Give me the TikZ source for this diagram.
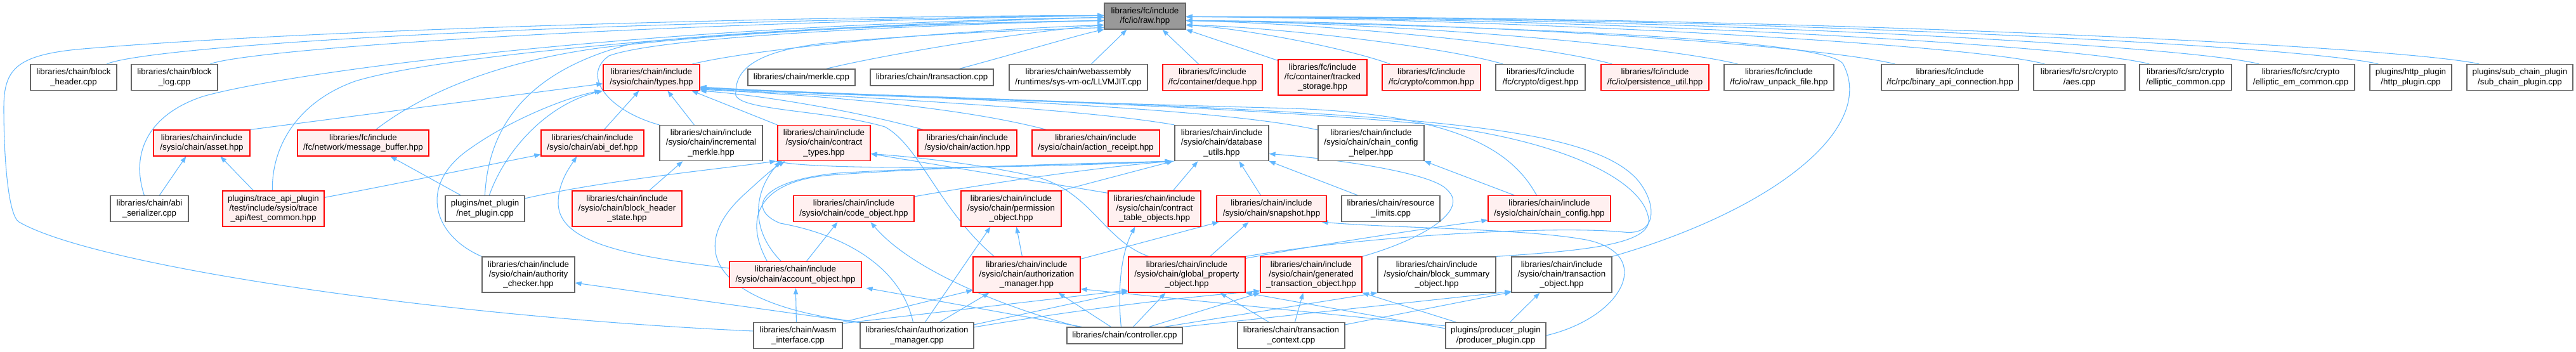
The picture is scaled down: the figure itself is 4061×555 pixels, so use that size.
\documentclass[tikz,border=0pt]{standalone}
\usepackage{fontspec}
\newfontfamily\dxf{Liberation Sans}
\usetikzlibrary{arrows.meta,calc,backgrounds}
\definecolor{edgec}{HTML}{63B8FF}
\definecolor{redfill}{HTML}{FFF0F0}
\definecolor{grayb}{HTML}{666666}
\definecolor{rawfill}{HTML}{999999}
\begin{document}
\begin{tikzpicture}[x=0.75pt,y=-0.75pt,
  wb/.style={draw=grayb, fill=white, line width=0.9pt, align=center, inner sep=0pt, font=\dxf\fontsize{10}{11.4}\selectfont},
  rb/.style={wb, draw=red, fill=redfill},
  gb/.style={wb, fill=rawfill},
  lone/.style={minimum height=19.5pt},
  ltwo/.style={minimum height=30.75pt},
  lthree/.style={minimum height=42pt},
  ed/.style={draw=edgec, line width=0.8pt, -{Triangle[length=7.5pt,width=5.5pt]}}]
\useasboundingbox (0,0) rectangle (4061,555);
% row 0
\node[gb,ltwo,minimum width=96pt] (raw) at (1805,25.5) {libraries/fc/include\\/fc/io/raw.hpp};
% row 1
\node[wb,ltwo,minimum width=102pt] (bh) at (116,122) {libraries/chain/block\\\_header.cpp};
\node[wb,ltwo,minimum width=102pt] (bl) at (275,122) {libraries/chain/block\\\_log.cpp};
\node[rb,ltwo,minimum width=114pt] (types) at (1027,122) {libraries/chain/include\\/sysio/chain/types.hpp};
\node[wb,lone,minimum width=126.75pt] (merkle) at (1263.5,122) {libraries/chain/merkle.cpp};
\node[wb,lone,minimum width=145.5pt] (trx) at (1469,122) {libraries/chain/transaction.cpp};
\node[wb,ltwo,minimum width=163.5pt] (llvm) at (1700,122) {libraries/chain/webassembly\\/runtimes/sys-vm-oc/LLVMJIT.cpp};
\node[rb,ltwo,minimum width=117.75pt] (deque) at (1911.5,122) {libraries/fc/include\\/fc/container/deque.hpp};
\node[rb,lthree,minimum width=105pt] (tracked) at (2085,122) {libraries/fc/include\\/fc/container/tracked\\\_storage.hpp};
\node[rb,ltwo,minimum width=116.25pt] (common) at (2256.5,122) {libraries/fc/include\\/fc/crypto/common.hpp};
\node[wb,ltwo,minimum width=105.75pt] (digest) at (2428.5,122) {libraries/fc/include\\/fc/crypto/digest.hpp};
\node[rb,ltwo,minimum width=127.5pt] (persist) at (2609,122) {libraries/fc/include\\/fc/io/persistence\_util.hpp};
\node[wb,ltwo,minimum width=129.75pt] (rawunpack) at (2804.5,122) {libraries/fc/include\\/fc/io/raw\_unpack\_file.hpp};
\node[wb,ltwo,minimum width=162pt] (binapi) at (3074,122) {libraries/fc/include\\/fc/rpc/binary\_api\_connection.hpp};
\node[wb,ltwo,minimum width=108pt] (aes) at (3278,122) {libraries/fc/src/crypto\\/aes.cpp};
\node[wb,ltwo,minimum width=108.75pt] (ellc) at (3445.5,122) {libraries/fc/src/crypto\\/elliptic\_common.cpp};
\node[wb,ltwo,minimum width=127.5pt] (ellem) at (3627,122) {libraries/fc/src/crypto\\/elliptic\_em\_common.cpp};
\node[wb,ltwo,minimum width=96.75pt] (http) at (3800.5,122) {plugins/http\_plugin\\/http\_plugin.cpp};
\node[wb,ltwo,minimum width=125.25pt] (subchain) at (3972.5,122) {plugins/sub\_chain\_plugin\\/sub\_chain\_plugin.cpp};
% row 2
\node[rb,ltwo,minimum width=114pt] (asset) at (318,225.5) {libraries/chain/include\\/sysio/chain/asset.hpp};
\node[rb,ltwo,minimum width=155.25pt] (msgbuf) at (572.5,225.5) {libraries/fc/include\\/fc/network/message\_buffer.hpp};
\node[rb,ltwo,minimum width=121.5pt] (abidef) at (934,225.5) {libraries/chain/include\\/sysio/chain/abi\_def.hpp};
\node[wb,lthree,minimum width=121.5pt] (incmerkle) at (1121,225.5) {libraries/chain/include\\/sysio/chain/incremental\\\_merkle.hpp};
\node[rb,lthree,minimum width=109.5pt] (ctypes) at (1299,225.5) {libraries/chain/include\\/sysio/chain/contract\\\_types.hpp};
\node[rb,ltwo,minimum width=117pt] (action) at (1525,225.5) {libraries/chain/include\\/sysio/chain/action.hpp};
\node[rb,ltwo,minimum width=150.75pt] (areceipt) at (1727.5,225.5) {libraries/chain/include\\/sysio/chain/action\_receipt.hpp};
\node[wb,lthree,minimum width=111pt] (dbutils) at (1926,225.5) {libraries/chain/include\\/sysio/chain/database\\\_utils.hpp};
\node[wb,lthree,minimum width=125.25pt] (cchelper) at (2161.5,225.5) {libraries/chain/include\\/sysio/chain/chain\_config\\\_helper.hpp};
% row 3
\node[wb,ltwo,minimum width=92.25pt] (abiser) at (235.5,329) {libraries/chain/abi\\\_serializer.cpp};
\node[rb,lthree,minimum width=120pt] (testcommon) at (431,329) {plugins/trace\_api\_plugin\\/test/include/sysio/trace\\\_api/test\_common.hpp};
\node[wb,ltwo,minimum width=93.75pt] (netplugin) at (764.5,329) {plugins/net\_plugin\\/net\_plugin.cpp};
\node[rb,lthree,minimum width=129.75pt] (bhstate) at (988.5,329) {libraries/chain/include\\/sysio/chain/block\_header\\\_state.hpp};
\node[rb,ltwo,minimum width=142.5pt] (codeobj) at (1346,329) {libraries/chain/include\\/sysio/chain/code\_object.hpp};
\node[rb,lthree,minimum width=118.5pt] (permobj) at (1594,329) {libraries/chain/include\\/sysio/chain/permission\\\_object.hpp};
\node[rb,lthree,minimum width=109.5pt] (ctable) at (1820,329) {libraries/chain/include\\/sysio/chain/contract\\\_table\_objects.hpp};
\node[rb,ltwo,minimum width=129.75pt] (snapshot) at (2004.5,329) {libraries/chain/include\\/sysio/chain/snapshot.hpp};
\node[wb,ltwo,minimum width=116.25pt] (reslimits) at (2192.5,329) {libraries/chain/resource\\\_limits.cpp};
\node[rb,ltwo,minimum width=144.75pt] (chainconfig) at (2442.5,329) {libraries/chain/include\\/sysio/chain/chain\_config.hpp};
% row 4
\node[wb,lthree,minimum width=109.5pt] (authchecker) at (833,433) {libraries/chain/include\\/sysio/chain/authority\\\_checker.hpp};
\node[rb,ltwo,minimum width=156pt] (account) at (1254,433) {libraries/chain/include\\/sysio/chain/account\_object.hpp};
\node[rb,lthree,minimum width=126.75pt] (authmgr) at (1618.5,433) {libraries/chain/include\\/sysio/chain/authorization\\\_manager.hpp};
\node[rb,lthree,minimum width=138pt] (gpo) at (1871,433) {libraries/chain/include\\/sysio/chain/global\_property\\\_object.hpp};
\node[rb,lthree,minimum width=120pt] (gto) at (2067,433) {libraries/chain/include\\/sysio/chain/generated\\\_transaction\_object.hpp};
\node[wb,lthree,minimum width=139.5pt] (bso) at (2265,433) {libraries/chain/include\\/sysio/chain/block\_summary\\\_object.hpp};
\node[wb,lthree,minimum width=118.5pt] (tobj) at (2462,433) {libraries/chain/include\\/sysio/chain/transaction\\\_object.hpp};
% row 5
\node[wb,ltwo,minimum width=105pt] (wasm) at (1258,529) {libraries/chain/wasm\\\_interface.cpp};
\node[wb,ltwo,minimum width=134.25pt] (amcpp) at (1445.5,529) {libraries/chain/authorization\\\_manager.cpp};
\node[wb,lone,minimum width=136.5pt] (controller) at (1773,529) {libraries/chain/controller.cpp};
\node[wb,ltwo,minimum width=126.75pt] (tctx) at (2035.5,529) {libraries/chain/transaction\\\_context.cpp};
\node[wb,ltwo,minimum width=118.5pt] (producer) at (2358,529) {plugins/producer\_plugin\\/producer\_plugin.cpp};

\begin{pgfonlayer}{background}
% ---- into raw.hpp
\draw[ed] ($(wasm.west)+(0,-7)$) .. controls (700,500) and (150,420) .. (30,350) .. controls (13,340) and (6,250) .. (6,170) .. controls (6,110) and (25,88) .. (120,78) .. controls (500,45) and (1300,25) .. ($(raw.north west)+(0,20)$);
\draw[ed] ($(bh.north west)+(121,0)$) .. controls (220,78) and (700,38) .. ($(raw.north west)+(0,20)$);
\draw[ed] ($(bl.north west)+(125,0)$) .. controls (385,80) and (900,40) .. ($(raw.north west)+(0,20)$);
\draw[ed] ($(abiser.north west)+(54,0)$) .. controls (205,240) and (235,180) .. (320,152) .. controls (450,115) and (1000,40) .. ($(raw.north west)+(0,23)$);
\draw[ed] ($(testcommon.north west)+(79,0)$) .. controls (428,230) and (470,160) .. (560,128) .. controls (700,85) and (1200,42) .. ($(raw.north west)+(0,23)$);
\draw[ed] ($(msgbuf.north west)+(124,0)$) .. controls (650,160) and (760,100) .. (950,75) .. controls (1200,45) and (1550,35) .. ($(raw.north west)+(0,28)$);
\draw[ed] ($(netplugin.north west)+(63,0)$) .. controls (770,200) and (830,110) .. (1000,68) .. controls (1250,40) and (1600,35) .. ($(raw.north west)+(0,28)$);
\draw[ed] (incmerkle.north west) .. controls (960,175) and (915,120) .. (960,88) .. controls (1050,55) and (1500,38) .. ($(raw.north west)+(0,28)$);
\draw[ed] ($(types.north west)+(141,0)$) .. controls (1200,75) and (1500,48) .. ($(raw.north west)+(0,35)$);
\draw[ed] ($(merkle.north west)+(124,0)$) .. controls (1400,85) and (1600,52) .. ($(raw.north west)+(0,35)$);
\draw[ed] ($(trx.north west)+(141,0)$) .. controls (1600,85) and (1700,55) .. (raw.south west);
\draw[ed] ($(authmgr.north west)+(34,0)$) .. controls (1480,330) and (1450,230) .. (1395,200) .. controls (1300,172) and (1150,175) .. (1160,145) .. controls (1160,105) and (1200,80) .. (1300,68) .. controls (1500,50) and (1650,47) .. ($(raw.north west)+(0,39)$);
\draw[ed] ($(llvm.north west)+(130,0)$) -- ($(raw.south west)+(36,0)$);
\draw[ed] ($(deque.north west)+(57,0)$) -- ($(raw.south west)+(92,0)$);
\draw[ed] ($(tracked.north west)+(0,2)$) -- (raw.south east);
\draw[ed] ($(common.north west)+(13,0)$) .. controls (2120,75) and (1960,45) .. ($(raw.north east)+(0,35)$);
\draw[ed] ($(digest.north west)+(12,0)$) .. controls (2270,72) and (2000,42) .. ($(raw.north east)+(0,35)$);
\draw[ed] ($(persist.north west)+(18,0)$) .. controls (2430,70) and (2100,38) .. ($(raw.north east)+(0,28)$);
\draw[ed] ($(rawunpack.north west)+(22,0)$) .. controls (2610,70) and (2200,36) .. ($(raw.north east)+(0,28)$);
\draw[ed] ($(binapi.north west)+(22,0)$) .. controls (2860,70) and (2300,34) .. ($(raw.north east)+(0,28)$);
\draw[ed] ($(aes.north west)+(18,0)$) .. controls (3110,70) and (2400,30) .. ($(raw.north east)+(0,22)$);
\draw[ed] ($(ellc.north west)+(16,0)$) .. controls (3270,70) and (2500,28) .. ($(raw.north east)+(0,22)$);
\draw[ed] ($(ellem.north west)+(20,0)$) .. controls (3440,70) and (2600,26) .. ($(raw.north east)+(0,22)$);
\draw[ed] ($(http.north west)+(14,0)$) .. controls (3620,70) and (2700,25) .. ($(raw.north east)+(0,22)$);
\draw[ed] ($(subchain.north west)+(20,0)$) .. controls (3780,72) and (2800,24) .. ($(raw.north east)+(0,22)$);
\draw[ed] (tobj.north east) .. controls (2800,330) and (2960,200) .. (2905,100) .. controls (2870,58) and (2300,40) .. ($(raw.north east)+(0,28)$);
% ---- into types.hpp
\draw[ed] (asset.north east) -- ($(types.north west)+(0,31)$);
\draw[ed] ($(netplugin.north west)+(70,0)$) .. controls (795,240) and (860,165) .. (types.south west);
\draw[ed] (authchecker.north west) .. controls (680,370) and (660,290) .. (740,235) .. controls (810,185) and (900,152) .. ($(types.south west)+(-3,0)$);
\draw[ed] ($(abidef.north west)+(100,0)$) -- ($(types.south west)+(57,0)$);
\draw[ed] ($(incmerkle.north west)+(55,0)$) -- ($(types.south west)+(102,0)$);
\draw[ed] (ctypes.north west) -- ($(types.south west)+(140,0)$);
\draw[ed] ($(action.north west)+(9,0)$) .. controls (1350,175) and (1200,150) .. (types.south east);
\draw[ed] ($(areceipt.north west)+(23,0)$) .. controls (1500,165) and (1250,148) .. ($(types.south east)+(0,-2)$);
\draw[ed] (dbutils.north west) .. controls (1700,170) and (1300,150) .. ($(types.south east)+(0,-3)$);
\draw[ed] ($(cchelper.north west)+(0,8)$) .. controls (1900,165) and (1350,150) .. ($(types.south east)+(0,-4)$);
\draw[ed] ($(chainconfig.north west)+(77,0)$) .. controls (2380,230) and (2280,175) .. (2000,170) .. controls (1650,160) and (1300,150) .. ($(types.south east)+(0,-5)$);
\draw[ed] (bso.north east) .. controls (2500,395) and (2612,385) .. (2598,340) .. controls (2585,285) and (2470,222) .. (2250,196) .. controls (1900,162) and (1300,150) .. ($(types.south east)+(0,-6)$);
\draw[ed] (gpo.north east) .. controls (2150,372) and (2450,355) .. (2560,366) .. controls (2615,372) and (2612,318) .. (2580,282) .. controls (2530,228) and (2400,205) .. (2200,188) .. controls (1850,160) and (1300,150) .. ($(types.south east)+(0,-6)$);
% ---- asset, message_buffer, abi_def, incremental_merkle
\draw[ed] ($(abiser.north west)+(78,0)$) -- ($(asset.south west)+(52,0)$);
\draw[ed] ($(testcommon.north west)+(49,0)$) -- ($(asset.south west)+(106,0)$);
\draw[ed] ($(netplugin.north west)+(25,0)$) -- ($(msgbuf.south west)+(147,0)$);
\draw[ed] ($(testcommon.north east)+(0,11)$) .. controls (650,285) and (780,258) .. ($(abidef.south west)+(0,-3)$);
\draw[ed] ($(account.north west)+(0,11)$) .. controls (1000,405) and (880,385) .. (880,320) .. controls (880,290) and (895,268) .. ($(abidef.south west)+(57,0)$);
\draw[ed] ($(bhstate.north west)+(122,0)$) -- ($(incmerkle.south west)+(37,0)$);
% ---- contract_types
\draw[ed] ($(netplugin.north east)+(0,5)$) .. controls (950,285) and (1120,268) .. ($(ctypes.south west)+(-2,0)$);
\draw[ed] ($(account.north west)+(82,0)$) .. controls (1180,360) and (1190,300) .. ($(ctypes.south west)+(5,0)$);
\draw[ed] (amcpp.north west) .. controls (1120,480) and (1080,390) .. (1175,305) .. controls (1195,287) and (1215,268) .. ($(ctypes.south west)+(12,0)$);
\draw[ed] ($(ctable.north west)+(0,4)$) -- ($(ctypes.east)+(0,17)$);
\draw[ed] ($(gpo.north west)+(33,0)$) .. controls (1740,380) and (1720,300) .. (1630,278) .. controls (1550,260) and (1450,248) .. ($(ctypes.east)+(0,17)$);
\draw[ed] (dbutils.south west) .. controls (1600,266) and (1300,268) .. ($(ctypes.south west)+(-3,0)$);
% ---- database_utils
\draw[ed] ($(codeobj.north east)+(0,2)$) .. controls (1600,282) and (1750,262) .. ($(dbutils.south west)+(-3,0)$);
\draw[ed] (permobj.north east) -- ($(dbutils.south west)+(-2,0)$);
\draw[ed] ($(ctable.north west)+(103,0)$) -- ($(dbutils.south west)+(37,0)$);
\draw[ed] ($(snapshot.north west)+(70,0)$) -- ($(dbutils.south west)+(102,0)$);
\draw[ed] ($(reslimits.north west)+(26,0)$) -- (dbutils.south east);
\draw[ed] (gto.north east) .. controls (2250,375) and (2315,330) .. (2282,300) .. controls (2260,272) and (2100,250) .. ($(dbutils.east)+(0,17)$);
\draw[ed] ($(account.north west)+(60,0)$) .. controls (1170,340) and (1200,285) .. (1310,276) .. controls (1500,262) and (1750,257) .. ($(dbutils.south west)+(-5,0)$);
\draw[ed] ($(amcpp.north west)+(84,0)$) .. controls (1420,420) and (1330,370) .. (1230,352) .. controls (1180,332) and (1190,286) .. (1320,273) .. controls (1500,262) and (1750,258) .. ($(dbutils.south west)+(-5,0)$);
\draw[ed] ($(chainconfig.north west)+(42,0)$) -- (cchelper.south east);
% ---- row 3 targets
\draw[ed] ($(account.north west)+(122,0)$) -- ($(codeobj.south west)+(70,0)$);
\draw[ed] ($(controller.north west)+(20,0)$) .. controls (1600,490) and (1440,430) .. ($(codeobj.south west)+(122,0)$);
\draw[ed] ($(authmgr.north west)+(78,0)$) -- ($(permobj.south west)+(88,0)$);
\draw[ed] ($(amcpp.north west)+(103,0)$) -- ($(permobj.south west)+(47,0)$);
\draw[ed] ($(controller.north west)+(86,0)$) .. controls (1760,440) and (1772,390) .. ($(ctable.south west)+(43,0)$);
\draw[ed] ($(authmgr.north east)+(0,4)$) -- ($(snapshot.south west)+(4,0)$);
\draw[ed] ($(gpo.north west)+(129,0)$) -- ($(snapshot.south west)+(51,0)$);
\draw[ed] (producer.east) .. controls (2560,500) and (2610,400) .. (2500,378) .. controls (2400,360) and (2200,360) .. ($(snapshot.south east)+(-8,0)$);
\draw[ed] ($(gpo.north east)+(0,3)$) .. controls (2100,382) and (2250,360) .. ($(chainconfig.south west)+(0,-3)$);
% ---- row 4 targets
\draw[ed] ($(amcpp.north west)+(1,1)$) -- ($(authchecker.east)+(0,13)$);
\draw[ed] ($(wasm.north west)+(68,0)$) -- ($(account.south west)+(105,0)$);
\draw[ed] ($(controller.north west)+(24,0)$) -- ($(account.south east)+(7,0)$);
\draw[ed] (wasm.north east) -- ($(authmgr.south west)+(0,-4)$);
\draw[ed] ($(amcpp.north west)+(126,0)$) -- ($(authmgr.south west)+(26,0)$);
\draw[ed] ($(controller.north west)+(70,0)$) -- ($(authmgr.south west)+(135,0)$);
\draw[ed] ($(producer.north west)+(0,6)$) -- ($(authmgr.south east)+(0,-6)$);
\draw[ed] ($(wasm.north east)+(0,2)$) -- ($(gpo.south west)+(0,-4)$);
\draw[ed] ($(amcpp.north east)+(0,4)$) -- ($(gpo.south west)+(0,-2)$);
\draw[ed] ($(controller.north west)+(105,0)$) -- ($(gpo.south west)+(59,0)$);
\draw[ed] ($(tctx.north west)+(50,0)$) -- ($(gpo.south west)+(145,0)$);
\draw[ed] ($(producer.north west)+(0,10)$) -- (gpo.south east);
\draw[ed] ($(controller.north west)+(130,0)$) -- (gto.south west);
\draw[ed] ($(tctx.north west)+(91,0)$) -- ($(gto.south west)+(68,0)$);
\draw[ed] ($(producer.north west)+(17,0)$) -- (gto.south east);
\draw[ed] ($(amcpp.north east)+(0,8)$) .. controls (1750,480) and (1900,466) .. ($(gto.south west)+(0,-3)$);
\draw[ed] ($(controller.north west)+(154,0)$) -- (bso.south west);
\draw[ed] (controller.north east) -- ($(tobj.south west)+(0,-2)$);
\draw[ed] ($(tctx.north east)+(0,4)$) -- ($(tobj.south west)+(0,-1)$);
\draw[ed] ($(producer.north west)+(102,0)$) -- ($(tobj.south west)+(45,0)$);
\end{pgfonlayer}
\end{tikzpicture}
\end{document}
